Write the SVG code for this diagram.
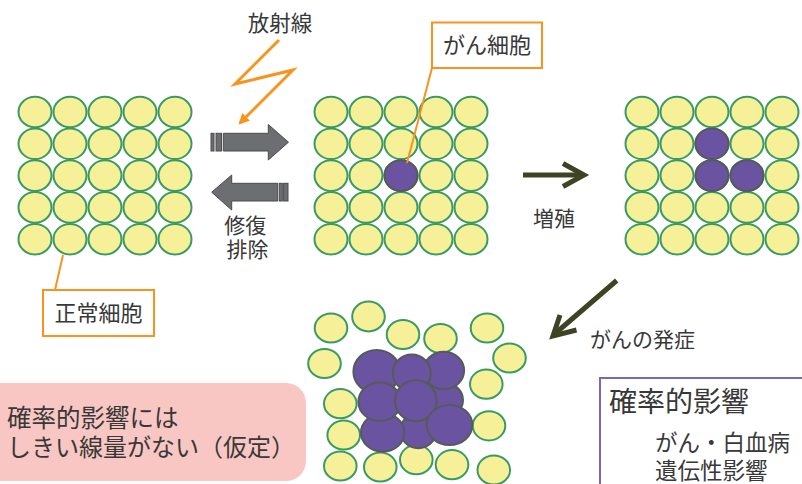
<svg xmlns="http://www.w3.org/2000/svg" xmlns:xlink="http://www.w3.org/1999/xlink" width="802" height="484" viewBox="0 0 802 484">
  <style>
    text { font-family: "Noto Sans CJK JP", "Noto Sans", sans-serif; fill: #383838; }
    .cell { fill: #f6f199; stroke: #3a9a64; stroke-width: 2; }
    .cancer { fill: #6a53a1; stroke: #58595b; stroke-width: 2; }
    .callout { fill: #ffffff; stroke: #f7941d; stroke-width: 2; }
    .leader { fill: none; stroke: #f7941d; stroke-width: 2; }
    .bolt { fill: none; stroke: #f7941d; stroke-width: 3; stroke-linejoin: miter; }
    .gray-arrow { fill: #6d6e71; stroke: #4b4b4d; stroke-width: 1; }
    .olive { fill: none; stroke: #3e4423; stroke-width: 5; stroke-linecap: butt; stroke-linejoin: miter; }
  </style>
  <defs>
    <ellipse id="c" class="cell" cx="0" cy="0" rx="16.5" ry="15.3"/>
    <g id="row">
      <use xlink:href="#c" x="0"/>
      <use xlink:href="#c" x="35"/>
      <use xlink:href="#c" x="70"/>
      <use xlink:href="#c" x="105"/>
      <use xlink:href="#c" x="140"/>
    </g>
    <g id="grid">
      <use xlink:href="#row" y="0"/>
      <use xlink:href="#row" y="31.8"/>
      <use xlink:href="#row" y="63.6"/>
      <use xlink:href="#row" y="95.4"/>
      <use xlink:href="#row" y="127.2"/>
    </g>
    <ellipse id="p" class="cancer" cx="0" cy="0" rx="16.5" ry="15.3"/>
    <marker id="orangeHead" viewBox="0 0 10 10" refX="8" refY="5" markerWidth="3.6" markerHeight="3.6" orient="auto" markerUnits="strokeWidth">
      <path d="M0,0 L10,5 L0,10 Z" fill="#f7941d"/>
    </marker>
  </defs>

  <!-- normal tissue -->
  <g id="tissue-normal">
    <use xlink:href="#grid" x="35" y="112"/>
  </g>

  <!-- tissue with one cancer cell -->
  <g id="tissue-mutated">
    <use xlink:href="#grid" x="331" y="112"/>
    <use xlink:href="#p" x="401" y="175.6"/>
  </g>

  <!-- tissue after proliferation -->
  <g id="tissue-proliferated">
    <use xlink:href="#grid" x="642" y="112"/>
    <use xlink:href="#p" x="712" y="143.8"/>
    <use xlink:href="#p" x="712" y="175.6"/>
    <use xlink:href="#p" x="747" y="175.6"/>
  </g>

  <!-- tumour cluster -->
  <g id="tumour">
    <ellipse class="cell" cx="331" cy="328" rx="16.3" ry="14.6"/>
    <ellipse class="cell" cx="368.5" cy="316.5" rx="16.3" ry="15"/>
    <ellipse class="cell" cx="403" cy="334.5" rx="16.3" ry="14.6"/>
    <ellipse class="cell" cx="440.5" cy="338.5" rx="16.3" ry="14.6"/>
    <ellipse class="cell" cx="487" cy="328" rx="16.3" ry="14.6"/>
    <ellipse class="cell" cx="509.5" cy="358" rx="16.3" ry="14.6"/>
    <ellipse class="cell" cx="324.5" cy="363.5" rx="16.3" ry="14.6"/>
    <ellipse class="cell" cx="486.3" cy="384.2" rx="16.3" ry="14.6"/>
    <ellipse class="cell" cx="340.3" cy="403.7" rx="16.3" ry="14.6"/>
    <ellipse class="cell" cx="489" cy="425.8" rx="16.3" ry="14.6"/>
    <ellipse class="cell" cx="343.7" cy="435" rx="16.3" ry="14.6"/>
    <ellipse class="cell" cx="340.3" cy="466" rx="16.3" ry="14.6"/>
    <ellipse class="cell" cx="380.3" cy="467" rx="16.3" ry="14.6"/>
    <ellipse class="cell" cx="416.3" cy="459.7" rx="16.3" ry="14.6"/>
    <ellipse class="cell" cx="452" cy="464.7" rx="16.3" ry="14.6"/>
    <ellipse class="cell" cx="493.8" cy="470" rx="16.3" ry="14.6"/>

    <ellipse class="cancer" cx="445" cy="400" rx="18" ry="17"/>
    <ellipse class="cancer" cx="418.3" cy="430.7" rx="18" ry="17.5"/>
    <ellipse class="cancer" cx="382.7" cy="432.5" rx="21.7" ry="19.2"/>
    <ellipse class="cancer" cx="376.7" cy="371.7" rx="23.3" ry="21.7"/>
    <ellipse class="cancer" cx="443.8" cy="370.5" rx="20.3" ry="18.8"/>
    <ellipse class="cancer" cx="411.8" cy="373" rx="19" ry="18.5"/>
    <ellipse class="cancer" cx="379.7" cy="401.8" rx="21.3" ry="19.2"/>
    <ellipse class="cancer" cx="415.8" cy="400.8" rx="20.8" ry="20.5"/>
    <ellipse class="cancer" cx="449.5" cy="425" rx="22.8" ry="20"/>
  </g>

  <!-- connectors -->
  <g id="connectors">
    <!-- radiation bolt -->
    <polyline class="bolt" points="279,40 235,84 293,70 240,123" marker-end="url(#orangeHead)"/>
    <!-- exposure arrow -->
    <g class="gray-arrow">
      <rect x="211" y="133.3" width="3" height="17.7"/>
      <rect x="216" y="133.3" width="5.5" height="17.7"/>
      <path d="M223.3,133.3 H268.3 V124.5 L288.5,142.2 L268.3,160 V151 H223.3 Z"/>
    </g>
    <!-- repair arrow -->
    <g class="gray-arrow">
      <path d="M277.7,183.3 H231.7 V175 L211.7,192.2 L231.7,210 V201 H277.7 Z"/>
      <rect x="279.3" y="183.3" width="3" height="17.7"/>
      <rect x="283.6" y="183.3" width="4.4" height="17.7"/>
    </g>
    <!-- proliferation arrow -->
    <line class="olive" x1="523" y1="175" x2="583" y2="175"/>
    <polyline class="olive" points="563,163.5 584,175 563,186.5"/>
    <!-- onset arrow -->
    <line class="olive" x1="616.7" y1="280.5" x2="554" y2="334.5"/>
    <polyline class="olive" points="560,315 553,336 576.5,330"/>
    <!-- callout leaders -->
    <line class="leader" x1="432" y1="68" x2="407" y2="163"/>
    <line class="leader" x1="63" y1="255" x2="55" y2="290"/>
  </g>

  <!-- labels -->
  <g id="label-radiation">
    <text x="280" y="31" font-size="21.5" text-anchor="middle">放射線</text>
  </g>
  <g id="label-cancer-cell">
    <rect class="callout" x="432" y="22.5" width="110" height="45.5"/>
    <text x="487" y="53" font-size="22" text-anchor="middle">がん細胞</text>
  </g>
  <g id="label-normal-cell">
    <rect class="callout" x="43" y="290" width="111" height="46"/>
    <text x="98.5" y="320.5" font-size="22" text-anchor="middle">正常細胞</text>
  </g>
  <g id="label-repair">
    <text font-size="21" text-anchor="middle">
      <tspan x="247.5" y="233">修復</tspan>
      <tspan x="247.5" y="257">排除</tspan>
    </text>
  </g>
  <g id="label-proliferation">
    <text x="554" y="226" font-size="21" text-anchor="middle">増殖</text>
  </g>
  <g id="label-onset">
    <text x="590" y="347" font-size="21">がんの発症</text>
  </g>

  <!-- note: no threshold -->
  <g id="note-threshold">
    <rect x="-20" y="383" width="326" height="98" rx="20" ry="20" fill="#f9c7c3"/>
    <text font-size="24.5">
      <tspan x="7" y="427">確率的影響には</tspan>
      <tspan x="7" y="456" font-size="24">しきい線量がない（仮定）</tspan>
    </text>
  </g>

  <!-- stochastic effects box -->
  <g id="box-stochastic">
    <rect x="600" y="378" width="220" height="120" fill="#ffffff" stroke="#7a66b2" stroke-width="2"/>
    <text x="609" y="412" font-size="28">確率的影響</text>
    <text font-size="22.5">
      <tspan x="655" y="451">がん・白血病</tspan>
      <tspan x="655" y="479">遺伝性影響</tspan>
    </text>
  </g>
</svg>
